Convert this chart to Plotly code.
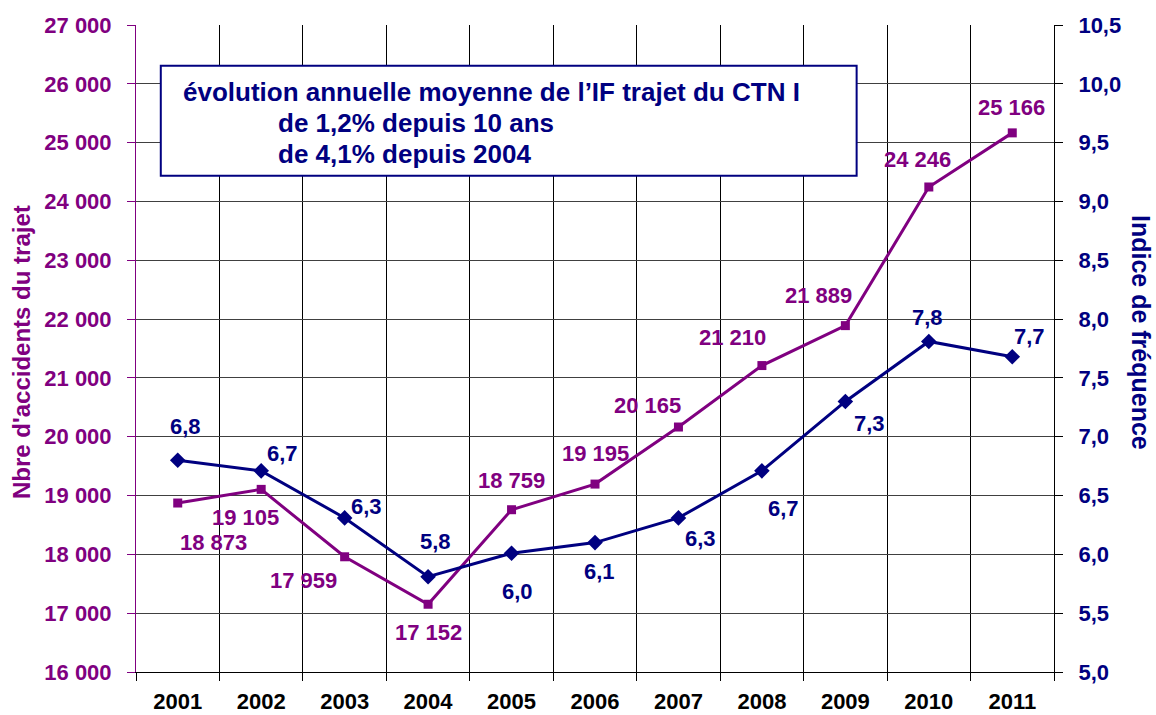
import plotly.graph_objects as go

years = ["2001", "2002", "2003", "2004", "2005", "2006", "2007", "2008", "2009", "2010", "2011"]
accidents = [18873, 19105, 17959, 17152, 18759, 19195, 20165, 21210, 21889, 24246, 25166]
accident_labels = ["18 873", "19 105", "17 959", "17 152", "18 759", "19 195", "20 165", "21 210", "21 889", "24 246", "25 166"]
indice = [6.8, 6.71, 6.31, 5.81, 6.01, 6.1, 6.31, 6.71, 7.3, 7.81, 7.68]
indice_labels = ["6,8", "6,7", "6,3", "5,8", "6,0", "6,1", "6,3", "6,7", "7,3", "7,8", "7,7"]
left_ticks = list(range(16000, 27001, 1000))
left_ticktext = [f"{v // 1000} 000" for v in left_ticks]
right_ticks = [5.0 + 0.5 * i for i in range(12)]
right_ticktext = [f"{v:.1f}".replace(".", ",") for v in right_ticks]
box_lines = ["évolution annuelle moyenne de l’IF trajet du CTN I",
             "de 1,2% depuis 10 ans",
             "de 4,1% depuis 2004"]

PURPLE = "#800080"
NAVY = "#000080"
FONT = "Liberation Sans, Arial, sans-serif"

# label offsets in pixels (styling): (dx, dy) with dy positive = up
acc_off = [(36, -39), (-16, -28), (-41, -24), (0, -28), (0, 29), (0, 31), (-31, 22), (-29, 28), (-27, 30), (-11, 27), (-1, 25)]
ind_off = [(8, 34), (21, 17), (22, 11), (7, 35), (6, -38), (4, -29), (22, -21), (22, -38), (24, -22), (-1, 24), (17, 20)]

fig = go.Figure()
fig.add_trace(go.Scatter(
    x=years, y=accidents, mode="lines+markers", yaxis="y",
    line=dict(color=PURPLE, width=3),
    marker=dict(symbol="square", size=9, color=PURPLE),
    showlegend=False, cliponaxis=False,
))
fig.add_trace(go.Scatter(
    x=years, y=indice, mode="lines+markers", yaxis="y2",
    line=dict(color=NAVY, width=3),
    marker=dict(symbol="diamond", size=12, color=NAVY),
    showlegend=False, cliponaxis=False,
))

annotations = []
for i, yr in enumerate(years):
    dx, dy = acc_off[i]
    annotations.append(dict(x=i, y=accidents[i], xref="x", yref="y", text=accident_labels[i],
                            showarrow=False, xshift=dx, yshift=dy,
                            font=dict(family=FONT, size=22, color=PURPLE, weight="bold")))
    dx, dy = ind_off[i]
    annotations.append(dict(x=i, y=indice[i], xref="x", yref="y2", text=indice_labels[i],
                            showarrow=False, xshift=dx, yshift=dy,
                            font=dict(family=FONT, size=22, color=NAVY, weight="bold")))

box_pos = [(0.049, 0.8964), (0.1525, 0.8485), (0.1525, 0.8006)]
for line, (bx, by) in zip(box_lines, box_pos):
    annotations.append(dict(
        xref="paper", yref="paper", x=bx, y=by, xanchor="left", yanchor="middle",
        text=line, showarrow=False,
        font=dict(family=FONT, size=26, color=NAVY, weight="bold"),
    ))
annotations.append(dict(
    xref="paper", yref="paper", x=-0.1242, y=0.4946, xanchor="center", yanchor="middle",
    text="Nbre d'accidents du trajet", textangle=-90, showarrow=False,
    font=dict(family=FONT, size=24, color=PURPLE, weight="bold"),
))
annotations.append(dict(
    xref="paper", yref="paper", x=1.0948, y=0.5255, xanchor="center", yanchor="middle",
    text="Indice de fréquence", textangle=90, showarrow=False,
    font=dict(family=FONT, size=25, color=NAVY, weight="bold"),
))

fig.update_layout(
    width=1156, height=715,
    margin=dict(l=136, r=102, t=25, b=43, autoexpand=False),
    paper_bgcolor="white", plot_bgcolor="white",
    annotations=annotations,
    shapes=[dict(type="rect", xref="paper", yref="paper",
                 x0=0.027, x1=0.785, y0=0.767, y1=0.937,
                 line=dict(color=NAVY, width=2), fillcolor="white", layer="above")],
    xaxis=dict(
        type="category", tickson="boundaries", range=[-0.5, 10.5],
        showgrid=True, gridcolor="#000000", gridwidth=1,
        showline=True, linecolor="#000000", linewidth=1,
        ticks="outside", ticklen=8, tickcolor="#000000",
        ticklabelstandoff=10, automargin=False,
        tickfont=dict(family=FONT, size=22, color="#000000", weight="bold"),
        zeroline=False,
    ),
    yaxis=dict(
        range=[16000, 27000], tickvals=left_ticks, ticktext=left_ticktext,
        showgrid=True, gridcolor="#404040", gridwidth=1,
        showline=True, linecolor=PURPLE, linewidth=1,
        ticks="outside", ticklen=8, tickcolor=PURPLE,
        ticklabelstandoff=11, automargin=False,
        tickfont=dict(family=FONT, size=22, color=PURPLE, weight="bold"),
        zeroline=False,
    ),
    yaxis2=dict(
        overlaying="y", side="right",
        range=[5.0, 10.5], tickvals=right_ticks, ticktext=right_ticktext,
        showgrid=False,
        showline=True, linecolor="#000000", linewidth=1,
        ticks="outside", ticklen=8, tickcolor="#000000",
        ticklabelstandoff=11, automargin=False,
        tickfont=dict(family=FONT, size=22, color=NAVY, weight="bold"),
        zeroline=False,
    ),
)

fig.write_html("out.html", config={"displayModeBar": False},
               post_script="document.body.style.margin='0';")
